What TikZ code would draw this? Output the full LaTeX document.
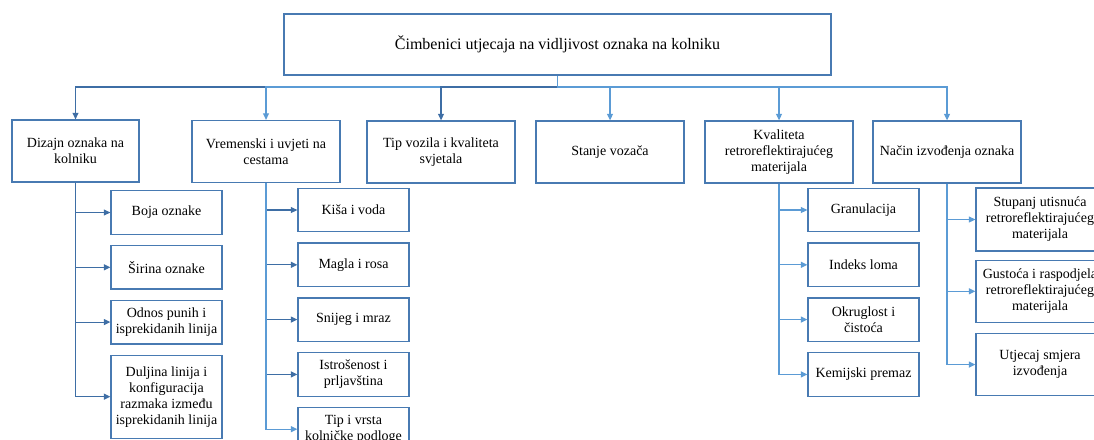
\documentclass[tikz,border=0pt]{standalone}
\usepackage{fontspec}
\setmainfont{Liberation Serif}
\usetikzlibrary{positioning,arrows.meta}
\definecolor{boxblue}{RGB}{72,122,178}
\definecolor{linkdark}{RGB}{62,110,165}
\definecolor{linklight}{RGB}{91,155,213}

\begin{document}
\begin{tikzpicture}[
  x=1pt, y=-1pt,
  node distance=10pt,
  box/.style={draw=boxblue, line width=1.3pt, align=center, font=\fontsize{14}{16}\selectfont, inner sep=2pt, minimum width=148pt, minimum height=62pt},
  sub/.style={box, minimum width=111pt, minimum height=43.5pt},
  arr/.style={-{Triangle[length=6.5pt,width=6pt]}, line width=1.2pt, draw=linklight},
  arrd/.style={arr, draw=linkdark}
]
\useasboundingbox (0,0) rectangle (1094,439);
\clip (0,0) rectangle (1094,439);

\node[box, minimum width=547pt, minimum height=61pt, font=\fontsize{16}{18}\selectfont] (root) at (557.5,44.5) {Čimbenici utjecaja na vidljivost oznaka na kolniku};
\coordinate (bus) at (557.5,87);

\node[box, minimum width=127pt] (dizajn) at (75.5,151) {Dizajn oznaka na\\kolniku};
\node[box] (vrijeme) at (266,151.5) {Vremenski i uvjeti na\\cestama};
\node[box] (vozilo) at (441,152) {Tip vozila i kvaliteta\\svjetala};
\node[box] (vozac) at (610,152) {Stanje vozača};
\node[box] (kvaliteta) at (779,152) {Kvaliteta\\retroreflektirajućeg\\materijala};
\node[box] (nacin) at (947,152) {Način izvođenja oznaka};

\node[sub] (boja) at (166.5,212.5) {Boja oznake};
\node[sub, below=of boja] (sirina) {Širina oznake};
\node[sub, below=of sirina] (odnos) {Odnos punih i\\isprekidanih linija};
\node[sub, below=of odnos, minimum height=83pt] (duljina) {Duljina linija i\\konfiguracija\\razmaka između\\isprekidanih linija};

\node[sub] (kisa) at (353.5,210) {Kiša i voda};
\node[sub, below=of kisa] (magla) {Magla i rosa};
\node[sub, below=of magla] (snijeg) {Snijeg i mraz};
\node[sub, below=of snijeg] (istrosenost) {Istrošenost i\\prljavština};
\node[sub, below=of istrosenost] (podloga) {Tip i vrsta\\kolničke podloge};

\node[sub] (granulacija) at (863.5,210) {Granulacija};
\node[sub, below=of granulacija] (indeks) {Indeks loma};
\node[sub, below=of indeks] (okruglost) {Okruglost i\\čistoća};
\node[sub, below=of okruglost] (premaz) {Kemijski premaz};

\node[sub, minimum width=128pt, minimum height=63pt] (utisnuce) at (1040,219.5) {Stupanj utisnuća\\retroreflektirajućeg\\materijala};
\node[sub, minimum width=128pt, minimum height=62pt, below=8pt of utisnuce] (gustoca) {Gustoća i raspodjela\\retroreflektirajućeg\\materijala};
\node[sub, minimum width=128pt, minimum height=62pt, below=of gustoca] (smjer) {Utjecaj smjera\\izvođenja};

\draw[arrd] (root.south) -- (root.south |- bus) -| (dizajn.north);
\draw[arr] (root.south) -- (root.south |- bus) -| (vrijeme.north);
\draw[arrd] (root.south) -- (root.south |- bus) -| (vozilo.north);
\draw[arr] (root.south) -- (root.south |- bus) -| (vozac.north);
\draw[arr] (root.south) -- (root.south |- bus) -| (kvaliteta.north);
\draw[arr] (root.south) -- (root.south |- bus) -| (nacin.north);

\draw[arrd] (dizajn.south) |- (boja.west);
\draw[arrd] (dizajn.south) |- (sirina.west);
\draw[arrd] (dizajn.south) |- (odnos.west);
\draw[arrd] (dizajn.south) |- (duljina.west);

\draw[arrd] (vrijeme.south) |- (kisa.west);
\draw[arrd] (vrijeme.south) |- (magla.west);
\draw[arrd] (vrijeme.south) |- (snijeg.west);
\draw[arrd] (vrijeme.south) |- (istrosenost.west);
\draw[arr] (vrijeme.south) |- (podloga.west);

\draw[arr] (kvaliteta.south) |- (granulacija.west);
\draw[arr] (kvaliteta.south) |- (indeks.west);
\draw[arr] (kvaliteta.south) |- (okruglost.west);
\draw[arr] (kvaliteta.south) |- (premaz.west);

\draw[arr] (nacin.south) |- (utisnuce.west);
\draw[arr] (nacin.south) |- (gustoca.west);
\draw[arr] (nacin.south) |- (smjer.west);
\end{tikzpicture}
\end{document}
